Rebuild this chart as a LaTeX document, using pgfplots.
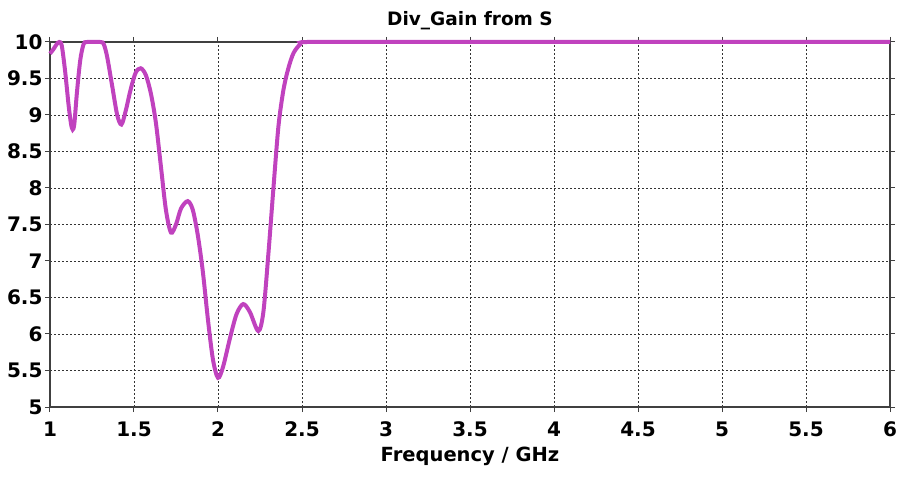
\documentclass[border=0pt]{standalone}
\usepackage{fontspec}
\setmainfont{DejaVu Sans}
\usepackage{pgfplots}
\pgfplotsset{compat=1.18}
\definecolor{curve}{RGB}{192,66,190}
\begin{document}
\begin{tikzpicture}[x=1pt,y=1pt]
\begin{axis}[
  scale only axis,
  width=840pt, height=365pt,
  xmin=1, xmax=6, ymin=5, ymax=10,
  xtick={1,1.5,...,6}, ytick={5,5.5,...,10},
  xticklabels={1,1.5,2,2.5,3,3.5,4,4.5,5,5.5,6},
  yticklabels={5,5.5,6,6.5,7,7.5,8,8.5,9,9.5,10},
  grid=major,
  major grid style={black!80, line width=0.8pt, dash pattern=on 2pt off 2pt},
  axis line style={black!75, line width=1.2pt},
  tick style={black!75, line width=1pt},
  tick align=outside, major tick length=5pt,
  ticklabel style={font=\fontsize{20}{22}\selectfont\bfseries},
  xticklabel style={yshift=-6pt},
  yticklabel style={xshift=1pt},
  title={Div\_Gain from S},
  title style={font=\fontsize{18.5}{20}\selectfont\bfseries, yshift=3pt},
  xlabel={Frequency / GHz},
  xlabel style={font=\fontsize{19.5}{21}\selectfont\bfseries, yshift=-4pt},
  clip=false,
]
\addplot[curve, line width=4pt, smooth, tension=0.5] coordinates {
(1.000,9.84) (1.020,9.90) (1.040,9.97) (1.055,10.0) (1.070,9.95) (1.090,9.60)
(1.110,9.15) (1.125,8.88) (1.135,8.80) (1.145,8.88) (1.160,9.30) (1.180,9.75)
(1.200,9.97) (1.220,10.0) (1.300,10.0) (1.320,9.97) (1.340,9.80) (1.370,9.40)
(1.400,9.00) (1.425,8.87) (1.450,9.05) (1.480,9.35) (1.510,9.58) (1.540,9.64)
(1.570,9.55) (1.600,9.30) (1.630,8.90) (1.660,8.30) (1.690,7.70) (1.720,7.39)
(1.750,7.50) (1.780,7.72) (1.820,7.82) (1.850,7.70) (1.880,7.35) (1.910,6.85)
(1.940,6.20) (1.970,5.65) (2.000,5.40) (2.030,5.55) (2.070,5.93) (2.110,6.27)
(2.150,6.41) (2.190,6.30) (2.240,6.04) (2.270,6.30) (2.300,7.10) (2.330,8.00)
(2.360,8.85) (2.390,9.35) (2.420,9.65) (2.450,9.85) (2.490,9.97) (2.530,10.0)
(3.000,10.0) (6.000,10.0)
};
\path (rel axis cs:0,0) ++(-50pt,-72pt) (rel axis cs:1,1) ++(15pt,42pt);
\end{axis}
\end{tikzpicture}
\end{document}
